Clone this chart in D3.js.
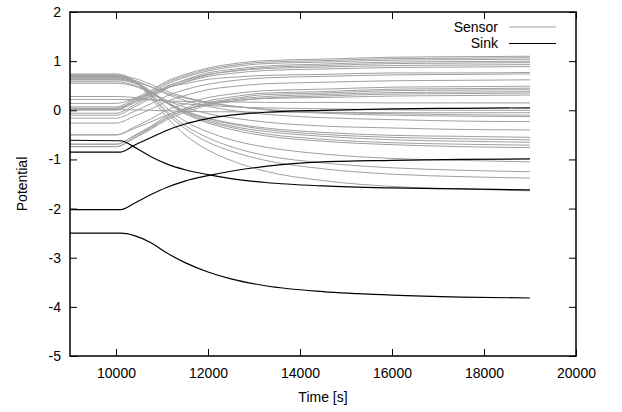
<!DOCTYPE html>
<html>
<head>
<meta charset="utf-8">
<script src="https://cdn.jsdelivr.net/npm/d3@7"></script>
<style>
  html, body { margin: 0; padding: 0; background: #fff; }
  svg { display: block; }
  text { font-family: "Liberation Sans", Arial, Helvetica, sans-serif; fill: #000; }
</style>
</head>
<body>
<svg id="chart" width="622" height="412"></svg>
<script>
// Sample times (s) for the potential traces
const sensorTimes = [9000, 10000, 10400, 10750, 11100, 11500, 12000, 12500, 13250, 14500, 16000, 17500, 19000];
const sinkTimes   = [9000, 10100, 10400, 10750, 11100, 11500, 12000, 12500, 13250, 14500, 16000, 17500, 19000];

// Sensor node potentials
const sensorValues = [
  [0.07, 0.07, 0.24, 0.40, 0.59, 0.73, 0.86, 0.94, 1.01, 1.04, 1.08, 1.09, 1.10],
  [0.04, 0.04, 0.21, 0.37, 0.56, 0.70, 0.83, 0.91, 0.98, 1.01, 1.05, 1.06, 1.07],
  [0.01, 0.01, 0.18, 0.34, 0.53, 0.67, 0.80, 0.88, 0.95, 0.98, 1.02, 1.03, 1.04],
  [-0.06, -0.06, 0.11, 0.28, 0.47, 0.62, 0.76, 0.83, 0.90, 0.94, 0.98, 0.99, 1.00],
  [-0.10, -0.10, 0.07, 0.24, 0.44, 0.58, 0.72, 0.80, 0.87, 0.91, 0.95, 0.96, 0.97],
  [0.04, 0.04, 0.18, 0.32, 0.49, 0.61, 0.73, 0.79, 0.85, 0.88, 0.91, 0.92, 0.93],
  [0.01, 0.01, 0.15, 0.29, 0.45, 0.57, 0.69, 0.75, 0.81, 0.84, 0.87, 0.88, 0.89],
  [0.14, 0.14, 0.24, 0.34, 0.46, 0.54, 0.63, 0.67, 0.71, 0.73, 0.76, 0.76, 0.77],
  [-0.16, -0.16, -0.02, 0.13, 0.29, 0.42, 0.53, 0.60, 0.66, 0.69, 0.72, 0.73, 0.74],
  [-0.26, -0.26, -0.12, 0.02, 0.18, 0.30, 0.42, 0.48, 0.54, 0.57, 0.60, 0.61, 0.62],
  [-0.50, -0.50, -0.34, -0.18, 0.00, 0.13, 0.26, 0.33, 0.40, 0.43, 0.47, 0.48, 0.49],
  [-0.69, -0.69, -0.51, -0.33, -0.12, 0.04, 0.19, 0.27, 0.35, 0.38, 0.43, 0.44, 0.45],
  [-0.74, -0.74, -0.55, -0.37, -0.16, 0.00, 0.15, 0.23, 0.32, 0.35, 0.40, 0.41, 0.42],
  [-0.69, -0.69, -0.52, -0.35, -0.16, 0.00, 0.13, 0.21, 0.28, 0.32, 0.36, 0.37, 0.38],
  [-0.74, -0.74, -0.57, -0.39, -0.20, -0.04, 0.10, 0.18, 0.25, 0.29, 0.33, 0.34, 0.35],
  [-0.50, -0.50, -0.37, -0.24, -0.10, 0.02, 0.12, 0.18, 0.24, 0.26, 0.29, 0.30, 0.31],
  [0.22, 0.22, 0.22, 0.21, 0.19, 0.18, 0.17, 0.17, 0.16, 0.16, 0.15, 0.15, 0.15],
  [0.28, 0.28, 0.26, 0.22, 0.18, 0.13, 0.10, 0.07, 0.05, 0.03, 0.01, 0.00, 0.00],
  [0.01, 0.01, 0.01, 0.00, -0.01, -0.02, -0.03, -0.03, -0.04, -0.04, -0.05, -0.05, -0.05],
  [0.74, 0.74, 0.60, 0.26, -0.14, -0.50, -0.81, -1.02, -1.24, -1.43, -1.55, -1.60, -1.64],
  [0.72, 0.72, 0.59, 0.30, -0.06, -0.37, -0.65, -0.83, -1.02, -1.19, -1.30, -1.35, -1.38],
  [0.71, 0.71, 0.59, 0.32, -0.02, -0.31, -0.56, -0.74, -0.92, -1.07, -1.17, -1.22, -1.25],
  [0.69, 0.69, 0.59, 0.34, 0.05, -0.22, -0.44, -0.60, -0.75, -0.89, -0.98, -1.02, -1.05],
  [0.68, 0.68, 0.59, 0.39, 0.15, -0.07, -0.26, -0.39, -0.52, -0.63, -0.70, -0.74, -0.76],
  [0.66, 0.66, 0.58, 0.39, 0.15, -0.05, -0.23, -0.35, -0.48, -0.59, -0.66, -0.69, -0.71],
  [0.64, 0.64, 0.56, 0.38, 0.16, -0.03, -0.20, -0.32, -0.43, -0.53, -0.60, -0.63, -0.65],
  [0.62, 0.62, 0.55, 0.38, 0.17, -0.01, -0.17, -0.28, -0.39, -0.49, -0.55, -0.58, -0.60],
  [0.58, 0.58, 0.51, 0.35, 0.16, -0.01, -0.16, -0.26, -0.36, -0.45, -0.51, -0.53, -0.55],
  [0.55, 0.55, 0.49, 0.36, 0.20, 0.06, -0.07, -0.15, -0.24, -0.32, -0.36, -0.39, -0.40],
  [0.66, 0.66, 0.61, 0.48, 0.33, 0.20, 0.08, 0.00, -0.08, -0.15, -0.19, -0.22, -0.23],
  [0.70, 0.70, 0.65, 0.53, 0.39, 0.27, 0.16, 0.09, 0.01, -0.06, -0.10, -0.12, -0.13],
  [0.62, 0.62, 0.58, 0.48, 0.35, 0.25, 0.15, 0.09, 0.02, -0.04, -0.07, -0.09, -0.10]
];

// Sink node potentials
const sinkValues = [
  [-0.85, -0.85, -0.71, -0.56, -0.41, -0.28, -0.17, -0.10, -0.04, 0.00, 0.03, 0.04, 0.05],
  [-0.61, -0.62, -0.75, -0.94, -1.09, -1.21, -1.31, -1.39, -1.47, -1.54, -1.58, -1.60, -1.62],
  [-2.02, -2.02, -1.89, -1.72, -1.57, -1.44, -1.33, -1.24, -1.14, -1.05, -1.02, -1.00, -0.99],
  [-2.50, -2.50, -2.55, -2.69, -2.90, -3.10, -3.29, -3.43, -3.57, -3.69, -3.76, -3.80, -3.82]
];

const xTicks = [10000, 12000, 14000, 16000, 18000, 20000];
const yTicks = [-5, -4, -3, -2, -1, 0, 1, 2];
const seriesNames = ["Sensor", "Sink"];

const svg = d3.select("#chart");
const margin = { left: 70, right: 46, top: 12, bottom: 56 };
const W = 622, H = 412;
const innerW = W - margin.left - margin.right;
const innerH = H - margin.top - margin.bottom;

const x = d3.scaleLinear().domain([9000, 20000]).range([margin.left, margin.left + innerW]);
const y = d3.scaleLinear().domain([-5, 2]).range([margin.top + innerH, margin.top]);

const tickLen = 7;
const fontSize = 14;

// clip traces to the plot box
svg.append("clipPath").attr("id", "plotclip")
  .append("rect")
  .attr("x", margin.left).attr("y", margin.top)
  .attr("width", innerW).attr("height", innerH);

const line = d3.line()
  .x(d => x(d[0]))
  .y(d => y(d[1]))
  .curve(d3.curveMonotoneX);

const traces = svg.append("g").attr("clip-path", "url(#plotclip)");

traces.selectAll("path.sensor")
  .data(sensorValues)
  .join("path")
  .attr("class", "sensor")
  .attr("fill", "none")
  .attr("stroke", "#a0a0a0")
  .attr("stroke-width", 1)
  .attr("d", vals => line(vals.map((v, i) => [sensorTimes[i], v])));

traces.selectAll("path.sink")
  .data(sinkValues)
  .join("path")
  .attr("class", "sink")
  .attr("fill", "none")
  .attr("stroke", "#000")
  .attr("stroke-width", 1.2)
  .attr("d", vals => line(vals.map((v, i) => [sinkTimes[i], v])));

// plain hyphen-minus for negative tick labels
const plain = d => String(d);

// Axes: bottom/left carry labels, top/right mirror the ticks; all ticks point inward
const xAxisBottom = d3.axisBottom(x).tickValues(xTicks).tickSizeInner(-tickLen).tickSizeOuter(0)
  .tickPadding(tickLen + 5).tickFormat(plain);
const xAxisTop = d3.axisTop(x).tickValues(xTicks).tickSizeInner(-tickLen).tickSizeOuter(0).tickFormat("");
const yAxisLeft = d3.axisLeft(y).tickValues(yTicks).tickSizeInner(-tickLen).tickSizeOuter(0)
  .tickPadding(tickLen + 2).tickFormat(plain);
const yAxisRight = d3.axisRight(y).tickValues(yTicks).tickSizeInner(-tickLen).tickSizeOuter(0).tickFormat("");

function styleAxis(g) {
  g.select(".domain").remove();
  g.selectAll(".tick line").attr("stroke", "#000").attr("stroke-width", 1);
  g.selectAll(".tick text")
    .attr("font-family", "'Liberation Sans', Arial, sans-serif")
    .attr("font-size", fontSize)
    .attr("fill", "#000");
}

svg.append("g").attr("transform", `translate(0,${margin.top + innerH})`).call(xAxisBottom).call(styleAxis);
svg.append("g").attr("transform", `translate(0,${margin.top})`).call(xAxisTop).call(styleAxis);
svg.append("g").attr("transform", `translate(${margin.left},0)`).call(yAxisLeft).call(styleAxis);
svg.append("g").attr("transform", `translate(${margin.left + innerW},0)`).call(yAxisRight).call(styleAxis);

// plot border
svg.append("rect")
  .attr("x", margin.left).attr("y", margin.top)
  .attr("width", innerW).attr("height", innerH)
  .attr("fill", "none").attr("stroke", "#000").attr("stroke-width", 1.5);

// axis titles
svg.append("text")
  .attr("x", margin.left + innerW / 2)
  .attr("y", 402)
  .attr("text-anchor", "middle")
  .attr("font-size", fontSize)
  .text("Time [s]");

svg.append("text")
  .attr("transform", `translate(27,${margin.top + innerH / 2}) rotate(-90)`)
  .attr("text-anchor", "middle")
  .attr("font-size", fontSize)
  .text("Potential");

// legend
const legendColors = ["#a0a0a0", "#000"];
const legend = svg.append("g");
seriesNames.forEach((name, i) => {
  const ly = 27 + i * 16.5;
  legend.append("text")
    .attr("x", 498).attr("y", ly)
    .attr("dy", "0.35em")
    .attr("text-anchor", "end")
    .attr("font-size", fontSize)
    .text(name);
  legend.append("line")
    .attr("x1", 509).attr("x2", 556)
    .attr("y1", ly).attr("y2", ly)
    .attr("stroke", legendColors[i])
    .attr("stroke-width", i === 0 ? 1 : 1.2);
});
</script>
</body>
</html>
